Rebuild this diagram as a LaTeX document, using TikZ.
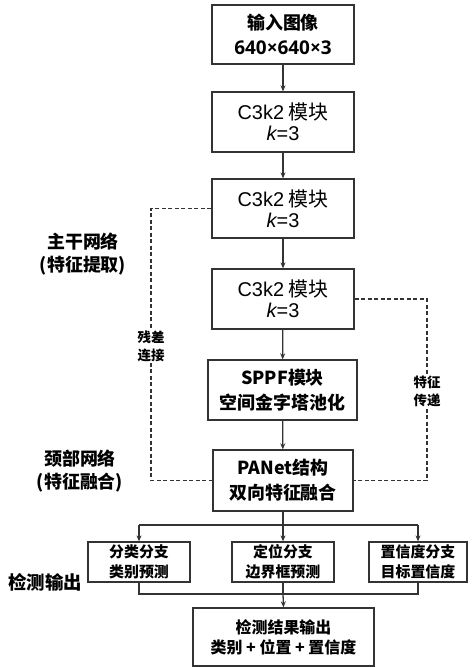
\documentclass[tikz,border=0pt]{standalone}
\usepackage{fontspec}
\setmainfont{Noto Sans CJK SC}
\newfontfamily\latn{Liberation Sans}
\newfontfamily\osans{Open Sans}
\usetikzlibrary{arrows.meta}
\definecolor{ln}{HTML}{333333}
\tikzset{
  box/.style={draw=ln, line width=1.3bp, fill=white, align=center, inner sep=2bp, text=black},
  big/.style={box, minimum width=142bp, font=\fontsize{20}{21}\selectfont},
  bigb/.style={big, font=\bfseries\fontsize{18}{25}\selectfont},
  small/.style={box, minimum width=102bp, minimum height=40bp, font=\bfseries\fontsize{15}{20}\selectfont},
  conn/.style={draw=ln, line width=1.3bp},
  arr/.style={conn, -{Stealth[length=6bp,width=5bp]}},
  dashline/.style={draw=ln, line width=1.1bp, dash pattern=on 4bp off 2.5bp},
  side/.style={font=\bfseries\fontsize{18}{23}\selectfont, align=center},
  tag/.style={font=\bfseries\fontsize{13.5}{18}\selectfont, align=center, fill=white, inner sep=1bp}
}
\begin{document}
\begin{tikzpicture}[x=1bp,y=-1bp]
\useasboundingbox (0,0) rectangle (476,667);
\node[bigb, minimum height=59bp] (b1) at (283,34.5) {输入图像\\{\osans\bfseries\fontsize{19}{25}\selectfont 640×640×3}};
\node[big, minimum height=60bp] (b2) at (283,122) {{\latn C3k2} 模块\\{\latn\itshape k}{\latn =3}};
\node[big, minimum height=59bp] (b3) at (283,208.5) {{\latn C3k2} 模块\\{\latn\itshape k}{\latn =3}};
\node[big, minimum height=60bp] (b4) at (283,299) {{\latn C3k2} 模块\\{\latn\itshape k}{\latn =3}};
\node[bigb, minimum width=149bp, minimum height=60bp] (sppf) at (282.5,390) {SPPF模块\\空间金字塔池化};
\node[bigb, minimum width=140bp, minimum height=61bp] (pan) at (283,480.5) {PANet结构\\双向特征融合};
\node[small] (ca) at (139,562) {分类分支\\类别预测};
\node[small] (cb) at (283,562) {定位分支\\边界框预测};
\node[small, minimum width=98bp] (cc) at (418,562) {置信度分支\\目标置信度};
\node[small, minimum width=181bp, minimum height=58bp, font=\bfseries\fontsize{16}{20}\selectfont] (out) at (283.5,637) {检测结果输出\\类别 + 位置 + 置信度};

\node[side] (l1) at (83,254) {主干网络\\(特征提取)};
\node[side] (l2) at (80,471) {颈部网络\\(特征融合)};
\node[font=\bfseries\fontsize{18.5}{22}\selectfont] (l3) at (45,582) {检测输出};

\draw[arr] (b1) -- (b2);
\draw[arr] (b2) -- (b3);
\draw[arr] (b3) -- (b4);
\draw[arr] (b4) -- (sppf);
\draw[arr] (sppf) -- (pan);

\coordinate (ls) at (151,208.5);
\coordinate (le) at (151,480.5);
\coordinate (rs) at (427,299);
\coordinate (re) at (427,480.5);
\draw[dashline] (b3.west) -- (ls) -- (le) -- (pan.west);
\draw[dashline] (b4.east) -- (rs) -- (re) -- (pan.east);
\node[tag] (t1) at (151,346) {残差\\连接};
\node[tag] (t2) at (427,391) {特征\\传递};

\coordinate (sp) at (283,525);
\coordinate (spl) at (ca.north |- sp);
\coordinate (spr) at (cc.north |- sp);
\draw[conn] (pan.south) -- (sp);
\draw[conn] (spl) -- (spr);
\draw[arr] (spl) -- (ca.north);
\draw[arr] (sp) -- (cb.north);
\draw[arr] (spr) -- (cc.north);

\coordinate (mg) at (283,594);
\coordinate (mgl) at (ca.south |- mg);
\coordinate (mgr) at (cc.south |- mg);
\draw[conn] (ca.south) -- (mgl) -- (mgr) -- (cc.south);
\draw[conn] (cb.south) -- (mg);
\draw[arr] (mg) -- (out.north);
\end{tikzpicture}
\end{document}
